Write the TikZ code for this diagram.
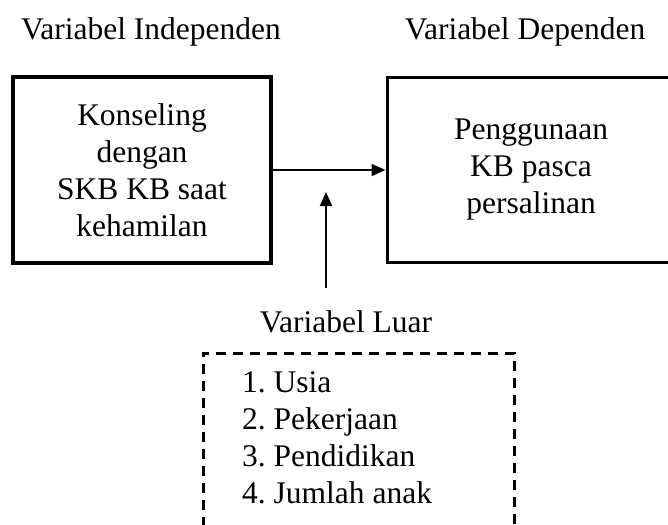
\documentclass[tikz,border=0pt]{standalone}
\usepackage{fontspec}
\setmainfont{Liberation Serif}
\usetikzlibrary{positioning,arrows.meta}
\frenchspacing

\begin{document}
\begin{tikzpicture}[
    x=1pt, y=-1pt,
    label/.style={font=\fontsize{31.5}{37}\selectfont, inner sep=0pt},
    varbox/.style={draw, align=center, font=\fontsize{31.5}{37}\selectfont},
    arrow/.style={-{Triangle[length=14pt, width=12pt]}, line width=2pt}
]
    \useasboundingbox (0,0) rectangle (668,524);
    \clip (0,0) rectangle (668,524);

    \node[label, anchor=base] (hdrIndep) at (151,40) {Variabel Independen};
    \node[label, anchor=base] (hdrDep) at (525,40) {Variabel Dependen};

    \node[varbox, line width=3.5pt, minimum width=258pt, minimum height=186pt] (konseling) at (142,170) {Konseling\\dengan\\SKB KB saat\\kehamilan};
    \node[varbox, line width=3pt, minimum width=288pt, minimum height=184pt] (penggunaan) at (531,170) {Penggunaan\\KB pasca\\persalinan};

    \draw[arrow] (konseling) -- (penggunaan);

    \node[label, anchor=base] (luarLabel) at (346,332) {Variabel Luar};
    \coordinate (pengaruh) at (326,192);
    \coordinate (luarTop) at ([yshift=22pt]luarLabel.north);
    \draw[arrow] (luarTop -| pengaruh) -- (pengaruh);

    \node[draw, line width=2.5pt, dash pattern=on 10pt off 7pt, anchor=north west, minimum width=311pt, minimum height=200pt] (luarBox) at (202,352) {};
    \node[label, anchor=north west, align=left] (luarList) at (242,371) {1. Usia\\2. Pekerjaan\\3. Pendidikan\\4. Jumlah anak};
\end{tikzpicture}
\end{document}
